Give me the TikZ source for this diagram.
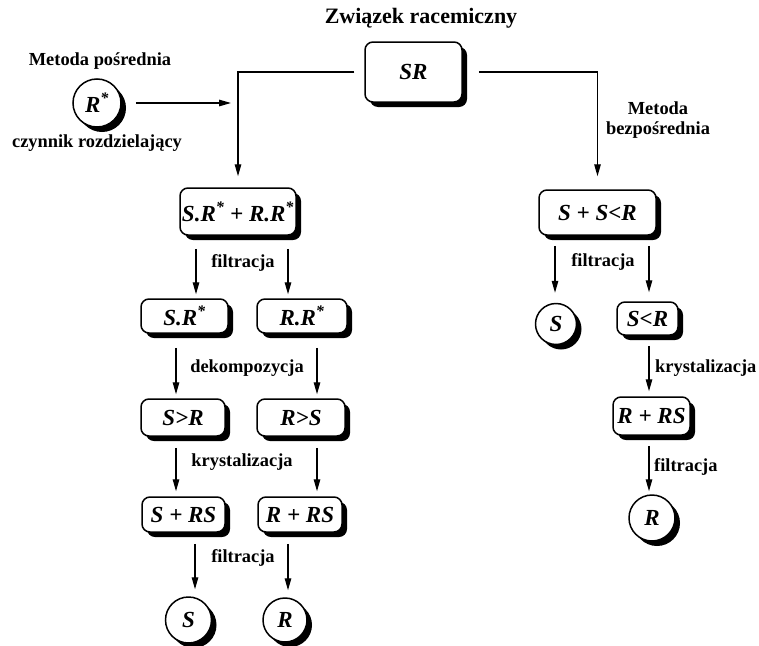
\documentclass[tikz,border=0pt]{standalone}
\usepackage{fontspec}
\setmainfont{Liberation Serif}
\usetikzlibrary{arrows.meta,shadows}

\begin{document}
\begin{tikzpicture}[x=1pt, y=-1pt,
    box/.style={draw, line width=1.5pt, rounded corners=8pt, fill=white, inner sep=0pt,
        drop shadow={shadow xshift=5pt, shadow yshift=-5pt, fill=black, opacity=1},
        font=\fontsize{23}{27}\selectfont\bfseries\itshape},
    ball/.style={box, circle, minimum size=46pt},
    arr/.style={line width=1.3pt, -{Triangle[length=12pt,width=6.5pt]}},
    lbl/.style={inner sep=0pt, font=\fontsize{18.4}{20.5}\selectfont\bfseries}]
    \useasboundingbox (0,0) rectangle (759,645);

    \node [lbl, font=\fontsize{22}{24}\selectfont\bfseries] (title) at (421,18) {Związek racemiczny};
    \node [box, minimum width=97pt, minimum height=60pt] (sr) at (413.5,72) {SR};

    \node [lbl] (indirect) at (100,61) {Metoda pośrednia};
    \node [ball, minimum size=48pt] (rstar) at (97,103) {R\textsuperscript{*}};
    \node [lbl] (agent) at (97,143) {czynnik rozdzielający};
    \coordinate (join) at (231,103);
    \node [lbl, align=center] (direct) at (658,120) {Metoda\\bezpośrednia};

    \node [box, minimum width=116pt, minimum height=47pt] (mix) at (238,211.5) {S.R\textsuperscript{*} + R.R\textsuperscript{*}};
    \node [box, minimum width=87pt, minimum height=34pt] (sr1) at (184.5,316) {S.R\textsuperscript{*}};
    \node [box, minimum width=90pt, minimum height=34pt] (rr1) at (302,316) {R.R\textsuperscript{*}};
    \node [box, minimum width=84pt, minimum height=37pt] (sgr) at (183,417.5) {S>R};
    \node [box, minimum width=88pt, minimum height=37pt] (rgs) at (301,417.5) {R>S};
    \node [box, minimum width=83pt, minimum height=35pt] (srs) at (183.5,514.5) {S + RS};
    \node [box, minimum width=84pt, minimum height=35pt] (rrs) at (300,514.5) {R + RS};
    \node [ball] (sfin) at (188.5,620) {S};
    \node [ball, minimum size=44pt] (rfin) at (285,620) {R};

    \node [box, minimum width=117pt, minimum height=45pt] (ssr) at (597.5,212.5) {S + S<R};
    \node [ball, minimum size=41pt] (s1) at (556,324) {S};
    \node [box, minimum width=61pt, minimum height=33pt] (slr) at (647.5,318.5) {S<R};
    \node [box, minimum width=77pt, minimum height=38pt] (rrs2) at (651.5,416) {R + RS};
    \node [ball] (rfin2) at (652,518) {R};

    \node [lbl] (filt1) at (243,263) {filtracja};
    \node [lbl] (decomp) at (247,368) {dekompozycja};
    \node [lbl] (cryst1) at (242,462) {krystalizacja};
    \node [lbl] (filt2) at (243,558) {filtracja};
    \node [lbl] (filt3) at (603,262) {filtracja};
    \node [lbl, anchor=west] (cryst2) at (655,368) {krystalizacja};
    \node [lbl, anchor=west] (filt4) at (654,467) {filtracja};

    \draw[arr, shorten <=10pt, shorten >=11pt] (sr.west) -| (mix.north);
    \draw[arr, shorten <=16pt, shorten >=13pt] (sr.east) -| (ssr.north);
    \draw[arr, shorten <=14pt] (rstar.east) -- (join);

    \draw[arr, shorten <=13pt, shorten >=4pt] ([xshift=-42pt]mix.south) -- ([xshift=-42pt]mix.south |- sr1.north);
    \draw[arr, shorten <=13pt, shorten >=4pt] ([xshift=50pt]mix.south) -- ([xshift=50pt]mix.south |- rr1.north);
    \draw[arr, shorten <=14pt, shorten >=4pt] ([xshift=-8.5pt]sr1.south) -- ([xshift=-8.5pt]sr1.south |- sgr.north);
    \draw[arr, shorten <=14pt, shorten >=4pt] ([xshift=15pt]rr1.south) -- ([xshift=15pt]rr1.south |- rgs.north);
    \draw[arr, shorten <=11pt, shorten >=5pt] ([xshift=-7pt]sgr.south) -- ([xshift=-7pt]sgr.south |- srs.north);
    \draw[arr, shorten <=11pt, shorten >=5pt] ([xshift=16pt]rgs.south) -- ([xshift=16pt]rgs.south |- rrs.north);
    \draw[arr, shorten <=11pt, shorten >=7pt] ([xshift=11.5pt]srs.south) -- ([xshift=11.5pt]srs.south |- sfin.north);
    \draw[arr, shorten <=11pt, shorten >=7pt] ([xshift=-12pt]rrs.south) -- ([xshift=-12pt]rrs.south |- rfin.north);

    \draw[arr, shorten <=10pt, shorten >=10pt] ([xshift=-42.5pt]ssr.south) -- ([xshift=-42.5pt]ssr.south |- s1.north);
    \draw[arr, shorten <=10pt, shorten >=9pt] ([xshift=51.5pt]ssr.south) -- ([xshift=51.5pt]ssr.south |- slr.north);
    \draw[arr, shorten <=10pt, shorten >=5pt] ([xshift=1.5pt]slr.south) -- ([xshift=1.5pt]slr.south |- rrs2.north);
    \draw[arr, shorten <=10pt, shorten >=3pt] ([xshift=-2.5pt]rrs2.south) -- ([xshift=-2.5pt]rrs2.south |- rfin2.north);

\end{tikzpicture}
\end{document}
